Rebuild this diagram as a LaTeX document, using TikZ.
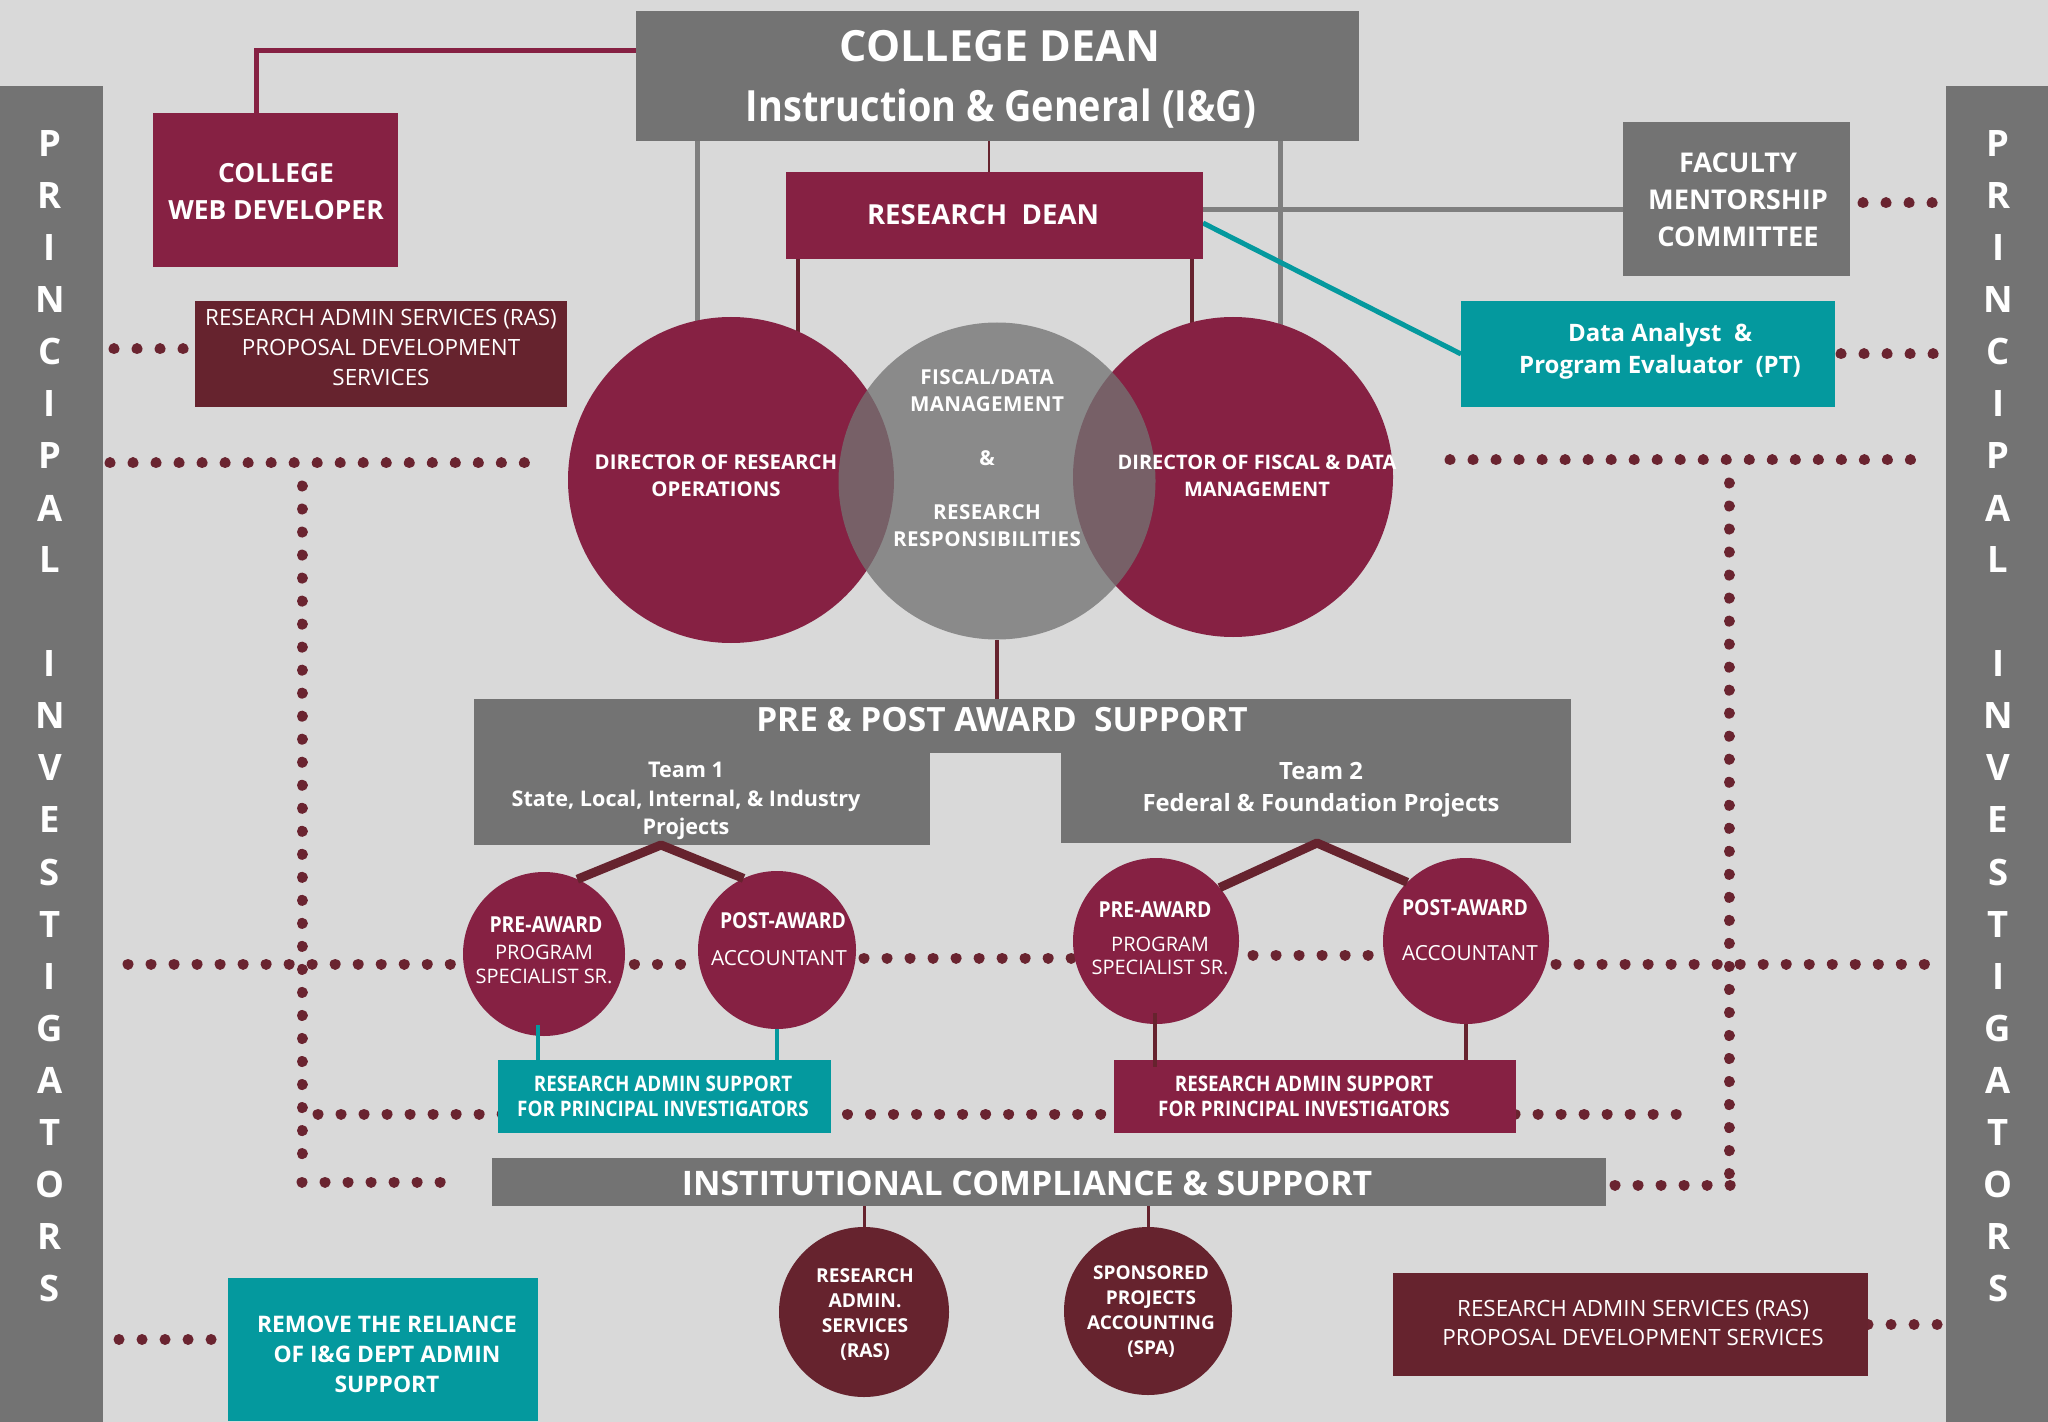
\documentclass[tikz,border=0pt]{standalone}
\usepackage{fontspec}
\setmainfont{Open Sans}
\newfontfamily\cnd{Open Sans}[FakeStretch=0.88]
\newfontfamily\ossp{Open Sans}[LetterSpace=2]
\usetikzlibrary{shapes.geometric,calc}
\newcommand\myfs[2]{\fontsize{#1}{#2}\selectfont}
\definecolor{bgc}{HTML}{D9D9D9}
\definecolor{gbox}{HTML}{737373}
\definecolor{mar}{HTML}{862143}
\definecolor{dmar}{HTML}{66232E}
\definecolor{dotc}{HTML}{6A2430}
\definecolor{teal1}{HTML}{04999E}
\definecolor{glc}{HTML}{7F7F7F}
\definecolor{gcirc}{HTML}{737373}
\pgfdeclarelayer{back}
\pgfdeclarelayer{bg}
\pgfsetlayers{back,bg,main}
\begin{document}
\begin{tikzpicture}[x=0.5pt,y=-0.5pt,
 box/.style={rectangle,inner sep=0pt,outer sep=0pt,draw=none},
 ell/.style={ellipse,inner sep=0pt,outer sep=0pt,draw=none},
 wt/.style={text=white,inner sep=0pt,outer sep=0pt,align=center},
 dots/.style={draw=dotc,line width=5.5pt,line cap=round,dash pattern=on 0.01pt off 11.5pt},
 gl/.style={draw=glc,line width=2.5pt},
 dl/.style={draw=dmar,line width=1.6pt},
 tl/.style={draw=dmar,line width=4.5pt,line join=round},
 pil/.style={wt,font={\myfs{18.2}{20}\bfseries}}]

\begin{pgfonlayer}{back}
\fill[bgc] (0,0) rectangle (2048,1422);
\end{pgfonlayer}
\useasboundingbox (0,0) rectangle (2048,1422);

% ---------- PI bars
\node[box,fill=gbox,minimum width=51.5pt,minimum height=668pt] (pil) at (51.5,754) {};
\node[box,fill=gbox,minimum width=51pt,minimum height=668pt] (pir) at (1997,754) {};
\foreach \l [count=\i from 0] in {P,R,I,N,C,I,P,A,L}{
  \node[pil] (pl\i) at (50,144+52*\i) {\l};
  \node[pil] (pr\i) at (1998,144+52*\i) {\l};}
\foreach \l [count=\i from 10] in {I,N,V,E,S,T,I,G,A,T,O,R,S}{
  \node[pil] (pl\i) at (50,144+52*\i) {\l};
  \node[pil] (pr\i) at (1998,144+52*\i) {\l};}

% ---------- top boxes
\node[box,fill=gbox,minimum width=361.5pt,minimum height=65pt] (dean) at (997.5,76) {};
\node[wt,font={\myfs{21.5}{26}\bfseries},anchor=base] (deanA) at (1000,62) {COLLEGE DEAN};
\node[wt,font={\myfs{21.5}{26}\cnd\bfseries},anchor=base] (deanB) at (1001,122) {Instruction \& General (I\&G)};

\node[box,fill=mar,minimum width=208.5pt,minimum height=43.5pt] (rdean) at (994.5,215.5) {};
\node[wt,font={\myfs{13.8}{16}\bfseries}] (rdeanT) at (983,215) {RESEARCH\ \ DEAN};

\node[box,fill=gbox,minimum width=113.5pt,minimum height=77pt] (fac) at (1736.5,199) {};
\node[wt,font={\myfs{13.6}{18.5}\bfseries}] (facT) at (1738,200) {FACULTY\\MENTORSHIP\\COMMITTEE};

\node[box,fill=teal1,minimum width=187pt,minimum height=53pt] (da) at (1648,354) {};
\node[wt,font={\myfs{12}{16}\bfseries},anchor=base] (daA) at (1660,341.5) {Data Analyst\ \ \&};
\node[wt,font={\myfs{12}{16}\bfseries},anchor=base] (daB) at (1660,373.5) {Program Evaluator\ \ (PT)};

\node[box,fill=mar,minimum width=122.5pt,minimum height=77pt] (webdev) at (275.5,190) {};
\node[wt,font={\myfs{13.2}{18.5}\bfseries}] (webdevT) at (276,191.5) {COLLEGE\\WEB DEVELOPER};

\node[box,fill=dmar,minimum width=186pt,minimum height=53pt] (rasTL) at (381,354) {};
\node[wt,font={\myfs{11.2}{15}}] (rasTLT) at (381,348) {RESEARCH ADMIN SERVICES (RAS)\\PROPOSAL DEVELOPMENT\\SERVICES};

% ---------- big circles
\node[ell,fill=mar,minimum width=163pt,minimum height=163pt] (dirL) at (731,480) {};
\node[ell,fill=mar,minimum width=160pt,minimum height=160pt] (dirR) at (1233,477) {};
\node[ell,fill=gcirc,fill opacity=0.77,minimum width=158.5pt,minimum height=158.5pt] (midc) at (997,481) {};
\node[wt,font={\myfs{10.2}{13.5}\bfseries}] (dirLT) at (716,475.5) {DIRECTOR OF RESEARCH\\OPERATIONS};
\node[wt,font={\myfs{10}{13.5}\bfseries}] (dirRT) at (1257,475.5) {DIRECTOR OF FISCAL \& DATA\\MANAGEMENT};
\node[wt,font={\myfs{10.3}{13.5}\ossp\bfseries}] (midT) at (987,458) {FISCAL/DATA\\MANAGEMENT\\[13.5pt]\&\\[13.5pt]RESEARCH\\RESPONSIBILITIES};

% ---------- pre & post award
\node[box,fill=gbox,minimum width=548.5pt,minimum height=27pt] (ppa) at (1022.5,726) {};
\node[box,fill=gbox,minimum width=228pt,minimum height=52pt] (team1) at (702,793) {};
\node[box,fill=gbox,minimum width=255pt,minimum height=51pt] (team2) at (1316,792) {};
\node[wt,font={\myfs{16.7}{20}\bfseries}] (ppaT) at (1002,720) {PRE \& POST AWARD\ \ SUPPORT};
\node[wt,font={\myfs{10.8}{13}\bfseries},anchor=base] (t1a) at (686,777.7) {Team 1};
\node[wt,font={\myfs{10.8}{13}\bfseries},anchor=base] (t1b) at (686,806.7) {State, Local, Internal, \& Industry};
\node[wt,font={\myfs{10.8}{13}\bfseries},anchor=base] (t1c) at (686,834.7) {Projects};
\node[wt,font={\myfs{11.9}{14}\bfseries},anchor=base] (t2a) at (1321,779.5) {Team 2};
\node[wt,font={\myfs{11.9}{14}\bfseries},anchor=base] (t2b) at (1321,811.5) {Federal \& Foundation Projects};

% ---------- small circles
\node[ell,fill=mar,minimum width=81pt,minimum height=82pt] (t1pre) at (544,954) {};
\node[ell,fill=mar,minimum width=79pt,minimum height=79pt] (t1post) at (777,950) {};
\node[ell,fill=mar,minimum width=83pt,minimum height=83pt] (t2pre) at (1156,941) {};
\node[ell,fill=mar,minimum width=83pt,minimum height=83pt] (t2post) at (1466,941) {};
\tikzset{ttl/.style={wt,font={\myfs{11}{13}\cnd\bfseries}},sub/.style={wt,font={\myfs{10}{12}}}}
\node[ttl] (t1preA) at (546,925) {PRE-AWARD};
\node[sub] (t1preB) at (544,952) {PROGRAM};
\node[sub] (t1preC) at (544,976) {SPECIALIST SR.};
\node[ttl] (t1postA) at (783,921) {POST-AWARD};
\node[sub,font={\myfs{10.4}{12}}] (t1postB) at (779,958) {ACCOUNTANT};
\node[ttl] (t2preA) at (1155,910) {PRE-AWARD};
\node[sub] (t2preB) at (1160,944) {PROGRAM};
\node[sub] (t2preC) at (1160,967) {SPECIALIST SR.};
\node[ttl] (t2postA) at (1465,908) {POST-AWARD};
\node[sub,font={\myfs{10.4}{12}}] (t2postB) at (1470,953) {ACCOUNTANT};

% ---------- support boxes
\node[box,fill=teal1,minimum width=166.5pt,minimum height=36.5pt] (rs1) at (664.5,1096.5) {};
\node[wt,font={\myfs{10.7}{12.5}\cnd\bfseries}] (rs1T) at (663,1096.5) {RESEARCH ADMIN SUPPORT\\FOR PRINCIPAL INVESTIGATORS};
\node[box,fill=mar,minimum width=201pt,minimum height=36.5pt] (rs2) at (1315,1096.5) {};
\node[wt,font={\myfs{10.7}{12.5}\cnd\bfseries}] (rs2T) at (1304,1096.5) {RESEARCH ADMIN SUPPORT\\FOR PRINCIPAL INVESTIGATORS};

\node[box,fill=gbox,minimum width=557pt,minimum height=24pt] (inst) at (1049,1182) {};
\node[wt,font={\myfs{16.9}{20}\bfseries}] (instT) at (1027,1183) {INSTITUTIONAL COMPLIANCE \& SUPPORT};

\node[ell,fill=dmar,minimum width=85pt,minimum height=85pt] (rasc) at (864,1312) {};
\node[wt,font={\myfs{9.6}{12.5}\bfseries}] (rascT) at (865,1314.5) {RESEARCH\\ADMIN.\\SERVICES\\(RAS)};
\node[ell,fill=dmar,minimum width=84pt,minimum height=84pt] (spac) at (1148,1311) {};
\node[wt,font={\myfs{9.5}{12.5}\bfseries}] (spacT) at (1151,1311.5) {SPONSORED\\PROJECTS\\ACCOUNTING\\(SPA)};

\node[box,fill=dmar,minimum width=237.5pt,minimum height=51.5pt] (bras) at (1630.5,1324.5) {};
\node[wt,font={\myfs{11.2}{14.5}}] (brasT) at (1633,1323) {RESEARCH ADMIN SERVICES (RAS)\\PROPOSAL DEVELOPMENT SERVICES};

\node[box,fill=teal1,minimum width=155pt,minimum height=71.5pt] (remove) at (383,1349.5) {};
\node[wt,font={\myfs{11.4}{15}\bfseries}] (removeT) at (387,1354) {REMOVE THE RELIANCE\\OF I\&G DEPT ADMIN\\SUPPORT};

% ---------- coordinates
\coordinate (gL) at (697,345);
\coordinate (gR) at (1280,345);
\coordinate (mL) at (798,345);
\coordinate (mR) at (1192,340);
\coordinate (ap1) at ([xshift=-20.5pt]team1.south);
\coordinate (ap2) at ([xshift=0.5pt]team2.south);
\coordinate (nA) at (110,463);  \coordinate (nB) at (530,463);
\coordinate (nC) at (302,486);  \coordinate (nD) at (302,1160);
\coordinate (nD2) at (302,1182); \coordinate (nE) at (460,1182);
\coordinate (nF) at (1450,460); \coordinate (nG) at (1917,460);
\coordinate (nH) at (1729,483); \coordinate (nI) at (1729,1180);
\coordinate (nJ) at (1615,1185); \coordinate (nK) at (1733,1185);
\coordinate (mA) at (128,964);  \coordinate (mB) at (700,964);
\coordinate (mC) at (864,958);  \coordinate (mD) at (1075,958);
\coordinate (mE) at (1253,955); \coordinate (mF) at (1391,955);
\coordinate (mG) at (1556,964); \coordinate (mH) at (1935,964);
\coordinate (lA) at (318,1114); \coordinate (lB) at (1697,1114);

% ---------- background connectors
\begin{pgfonlayer}{bg}
\draw[dots] (nA) -- (nB);
\draw[dots] (nC) -- (nD);
\draw[dots] (nD2) -- (nE);
\draw[dots] (nF) -- (nG);
\draw[dots] (nH) -- (nI);
\draw[dots] (nJ) -- (nK);
\draw[dots] (mA) -- (mB);
\draw[dots] (mC) -- (mD);
\draw[dots] (mE) -- (mF);
\draw[dots] (mG) -- (mH);
\draw[dots] (lA) -- (lB);
\draw[dots] ([xshift=6.5pt,yshift=-2pt]fac.east) -- ([yshift=-2pt]fac.east -| pir.west);
\draw[dots] ([xshift=3pt]da.east) -- (da.east -| pir.west);
\draw[dots] ($(pil.east |- rasTL.west)+(11,-5)$) -- ([yshift=2.5pt]rasTL.west);
\draw[dots] ($(pil.east |- remove.west)+(16,-10)$) -- ([yshift=5pt]remove.west);
\draw[dots] (bras.east) -- (bras.east -| pir.west);

\draw[draw=mar,line width=2.5pt] ([xshift=-9.5pt]webdev.north) |- ([yshift=12.5pt]dean.west);
\draw[gl] (gL |- dean.south) -- (gL);
\draw[gl] (gR |- dean.south) -- (gR);
\draw[dl,line width=1.3pt] ([xshift=-2.75pt]rdean.north) -- ([xshift=-2.75pt]rdean.north |- dean.south);
\draw[dl,line width=2pt] (mL |- rdean.south) -- (mL);
\draw[dl,line width=2pt] (mR |- rdean.south) -- (mR);
\draw[gl] ([yshift=2.75pt]rdean.east) -- ([yshift=2.75pt]rdean.east -| fac.west);
\draw[draw=teal1,line width=2.5pt] ([yshift=-3.75pt]rdean.east) -- (da.west);
\draw[dl,line width=2pt] (midc.south) -- (midc.south |- ppa.north);
\draw[draw=teal1,line width=2pt] (t1post.south) -- (t1post.south |- rs1.north);
\draw[dl,line width=2pt] (t2post.south) -- (t2post.south |- rs2.north);
\draw[dl,line width=1.5pt] (rasc.north |- inst.south) -- (rasc.north);
\draw[dl,line width=1.5pt] (spac.north |- inst.south) -- (spac.north);
\end{pgfonlayer}

% ---------- foreground connectors
\draw[tl] (t1pre.66) -- (ap1) -- (t1post.115);
\draw[tl] (t2pre.40) -- (ap2) -- (t2post.135);
\draw[draw=teal1,line width=2pt] ([xshift=-3pt,yshift=5.5pt]t1pre.south) -- ([xshift=-3pt]t1pre.south |- rs1.north);
\draw[dl,line width=2pt] ([xshift=-0.5pt,yshift=5.5pt]t2pre.south) -- ([xshift=-0.5pt,yshift=-3.5pt]t2pre.south |- rs2.north);
\end{tikzpicture}
\end{document}
